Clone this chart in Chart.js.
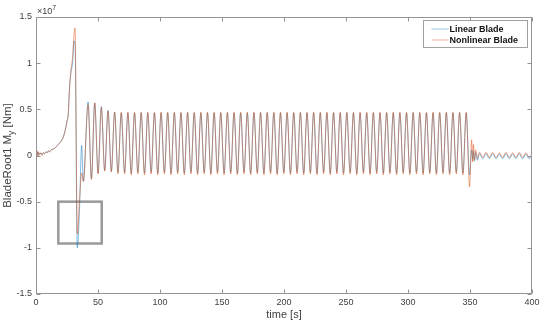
<!DOCTYPE html>
<html>
<head>
<meta charset="utf-8">
<script src="https://cdn.jsdelivr.net/npm/chart.js@4/dist/chart.umd.min.js"></script>
<style>
html,body{margin:0;padding:0;background:#fff;}
</style>
</head>
<body>
<canvas id="c" width="545" height="323"></canvas>
<script>
// Values are in units of 1e7 Nm (axis shows x10^7)
const startTime = [0, 1, 1.5, 2, 3, 4, 5, 6, 7, 8, 9, 10, 11, 12, 14, 16, 18, 20, 22, 24, 25, 26, 27, 28, 29.6, 30.6, 31.5, 33.3, 35, 36.8, 38.2];
const startLinear = [0.02, 0.04, 0.0, 0.03, 0.01, 0.03, 0.01, 0.03, 0.02, 0.04, 0.03, 0.05, 0.04, 0.06, 0.07, 0.09, 0.12, 0.15, 0.2, 0.3, 0.37, 0.45, 0.72, 0.88, 1.02, 1.24, 1.2, -1.0, -0.62, 0.11, -0.28];
const startNonlinear = [0.02, 0.05, -0.01, 0.04, 0.01, 0.03, 0.0, 0.03, 0.02, 0.04, 0.03, 0.05, 0.04, 0.06, 0.07, 0.09, 0.12, 0.15, 0.2, 0.3, 0.37, 0.45, 0.72, 0.9, 1.08, 1.3, 1.38, -0.85, -0.5, -0.19, -0.28];

const oscTime = [
  42.00, 44.70, 47.35, 50.05, 52.70, 55.40, 58.05, 60.75, 63.40, 66.10,
  68.75, 71.45, 74.10, 76.80, 79.45, 82.15, 84.80, 87.50, 90.15, 92.85,
  95.50, 98.20, 100.85, 103.55, 106.20, 108.90, 111.55, 114.25, 116.90, 119.60,
  122.25, 124.95, 127.60, 130.30, 132.95, 135.65, 138.30, 141.00, 143.65, 146.35,
  149.00, 151.70, 154.35, 157.05, 159.70, 162.40, 165.05, 167.75, 170.40, 173.10,
  175.75, 178.45, 181.10, 183.80, 186.45, 189.15, 191.80, 194.50, 197.15, 199.85,
  202.50, 205.20, 207.85, 210.55, 213.20, 215.90, 218.55, 221.25, 223.90, 226.60,
  229.25, 231.95, 234.60, 237.30, 239.95, 242.65, 245.30, 248.00, 250.65, 253.35,
  256.00, 258.70, 261.35, 264.05, 266.70, 269.40, 272.05, 274.75, 277.40, 280.10,
  282.75, 285.45, 288.10, 290.80, 293.45, 296.15, 298.80, 301.50, 304.15, 306.85,
  309.50, 312.20, 314.85, 317.55, 320.20, 322.90, 325.55, 328.25, 330.90, 333.60,
  336.25, 338.95, 341.60, 344.30, 346.95
];
const oscLinear = [
  0.58, -0.25, 0.57, -0.19, 0.53, -0.16, 0.49, -0.17, 0.47, -0.18,
  0.46, -0.18, 0.46, -0.19, 0.46, -0.18, 0.46, -0.19, 0.46, -0.18,
  0.46, -0.19, 0.46, -0.18, 0.46, -0.19, 0.46, -0.18, 0.46, -0.19,
  0.46, -0.18, 0.46, -0.19, 0.46, -0.18, 0.46, -0.19, 0.46, -0.18,
  0.46, -0.19, 0.46, -0.18, 0.46, -0.19, 0.46, -0.18, 0.46, -0.19,
  0.46, -0.18, 0.46, -0.19, 0.46, -0.18, 0.46, -0.19, 0.46, -0.18,
  0.46, -0.19, 0.46, -0.18, 0.46, -0.19, 0.46, -0.18, 0.46, -0.19,
  0.46, -0.18, 0.46, -0.19, 0.46, -0.18, 0.46, -0.19, 0.46, -0.18,
  0.46, -0.19, 0.46, -0.18, 0.46, -0.19, 0.46, -0.18, 0.46, -0.19,
  0.46, -0.18, 0.46, -0.19, 0.46, -0.18, 0.46, -0.19, 0.46, -0.18,
  0.46, -0.19, 0.46, -0.18, 0.46, -0.19, 0.46, -0.18, 0.46, -0.19,
  0.46, -0.18, 0.46, -0.19, 0.46
];
const oscNonlinear = [
  0.55, -0.26, 0.57, -0.20, 0.52, -0.17, 0.48, -0.18, 0.47, -0.20,
  0.47, -0.20, 0.47, -0.21, 0.47, -0.20, 0.47, -0.21, 0.47, -0.20,
  0.47, -0.21, 0.47, -0.20, 0.47, -0.21, 0.47, -0.20, 0.47, -0.21,
  0.47, -0.20, 0.47, -0.21, 0.47, -0.20, 0.47, -0.21, 0.47, -0.20,
  0.47, -0.21, 0.47, -0.20, 0.47, -0.21, 0.47, -0.20, 0.47, -0.21,
  0.47, -0.20, 0.47, -0.21, 0.47, -0.20, 0.47, -0.21, 0.47, -0.20,
  0.47, -0.21, 0.47, -0.20, 0.47, -0.21, 0.47, -0.20, 0.47, -0.21,
  0.47, -0.20, 0.47, -0.21, 0.47, -0.20, 0.47, -0.21, 0.47, -0.20,
  0.47, -0.21, 0.47, -0.20, 0.47, -0.21, 0.47, -0.20, 0.47, -0.21,
  0.47, -0.20, 0.47, -0.21, 0.47, -0.20, 0.47, -0.21, 0.47, -0.20,
  0.47, -0.21, 0.47, -0.20, 0.47, -0.21, 0.47, -0.20, 0.47, -0.21,
  0.47, -0.20, 0.47, -0.21, 0.47
];

const endTime = [349.65, 351.3, 352.2, 352.8, 353.6, 354.6, 356.0, 357.6, 360.3, 362.95, 365.65, 368.3, 371.0, 373.65, 376.35, 379.0, 381.7, 384.35, 387.05, 389.7, 392.4, 395.05, 397.75, 400.0];
const endLinear = [-0.21, 0.06, -0.04, 0.05, -0.06, 0.03, -0.05, 0.02, -0.035, 0.02, -0.035, 0.02, -0.035, 0.015, -0.035, 0.02, -0.035, 0.015, -0.035, 0.02, -0.035, 0.015, -0.035, -0.005];
const endNonlinear = [-0.34, 0.17, -0.07, 0.12, -0.05, 0.06, -0.03, 0.035, -0.02, 0.035, -0.02, 0.035, -0.02, 0.03, -0.02, 0.035, -0.02, 0.03, -0.02, 0.035, -0.02, 0.03, -0.02, 0.01];

const seriesNames = ['Linear Blade', 'Nonlinear Blade'];
const xTicks = [0, 50, 100, 150, 200, 250, 300, 350, 400];
const yTicks = [-1.5, -1, -0.5, 0, 0.5, 1, 1.5];
const zoomBoxTime = [18, 53];
const zoomBoxValue = [-0.953, -0.5];

const FONT = "'Liberation Sans', Arial, Helvetica, sans-serif";
const TXT = '#404040';

function pts(t, v) { return t.map((x, i) => ({ x: x, y: v[i] })); }
const allTime = startTime.concat(oscTime, endTime);
const linearVals = startLinear.concat(oscLinear, endLinear);
const nonlinearVals = startNonlinear.concat(oscNonlinear, endNonlinear);

const framePlugin = {
  id: 'frame',
  beforeDatasetsDraw(chart) {
    const { ctx, scales: { x, y } } = chart;
    ctx.save();
    ctx.strokeStyle = '#9a9a9a';
    ctx.lineWidth = 2.5;
    const bx1 = x.getPixelForValue(zoomBoxTime[0]);
    const bx2 = x.getPixelForValue(zoomBoxTime[1]);
    const by1 = y.getPixelForValue(zoomBoxValue[1]);
    const by2 = y.getPixelForValue(zoomBoxValue[0]);
    ctx.strokeRect(bx1, by1, bx2 - bx1, by2 - by1);
    ctx.restore();
  },
  afterDraw(chart) {
    const { ctx, chartArea: a, scales: { x, y } } = chart;
    ctx.save();
    const L = Math.round(a.left) + 0.5, R = Math.round(a.right) - 0.5;
    const T = Math.round(a.top) + 0.5, B = Math.round(a.bottom) - 0.5;
    ctx.strokeStyle = '#949494';
    ctx.lineWidth = 1;
    ctx.strokeRect(L, T, R - L, B - T);
    const tl = 4;
    ctx.beginPath();
    x.ticks.forEach(t => {
      const px = Math.round(x.getPixelForValue(t.value)) + 0.5;
      ctx.moveTo(px, B); ctx.lineTo(px, B - tl);
      ctx.moveTo(px, T); ctx.lineTo(px, T + tl);
    });
    y.ticks.forEach(t => {
      const py = Math.round(y.getPixelForValue(t.value)) + 0.5;
      ctx.moveTo(L, py); ctx.lineTo(L + tl, py);
      ctx.moveTo(R, py); ctx.lineTo(R - tl, py);
    });
    ctx.stroke();

    // x10^7 exponent label
    ctx.fillStyle = TXT;
    ctx.textBaseline = 'alphabetic';
    ctx.textAlign = 'left';
    ctx.font = '9px ' + FONT;
    ctx.fillText('\u00d710', a.left + 1, a.top - 3);
    const w10 = ctx.measureText('\u00d710').width;
    ctx.font = '7px ' + FONT;
    ctx.fillText('7', a.left + 1 + w10, a.top - 7);

    // y axis title with subscript
    ctx.save();
    ctx.translate(11, (a.top + a.bottom) / 2);
    ctx.rotate(-Math.PI / 2);
    const p1 = 'BladeRoot1 M', p2 = 'y', p3 = ' [Nm]';
    ctx.font = '11.5px ' + FONT;
    const w1 = ctx.measureText(p1).width, w3 = ctx.measureText(p3).width;
    ctx.font = '8.5px ' + FONT;
    const w2 = ctx.measureText(p2).width;
    const s = -(w1 + w2 + w3) / 2;
    ctx.font = '11.5px ' + FONT;
    ctx.fillText(p1, s, 0);
    ctx.font = '8.5px ' + FONT;
    ctx.fillText(p2, s + w1, 3);
    ctx.font = '11.5px ' + FONT;
    ctx.fillText(p3, s + w1 + w2, 0);
    ctx.restore();

    // legend box
    const lw = 104, lh = 27;
    const lx = Math.round(a.right) - 5 - lw + 0.5, ly = Math.round(a.top) + 3 + 0.5;
    ctx.fillStyle = '#ffffff';
    ctx.fillRect(lx, ly, lw, lh);
    ctx.strokeStyle = '#a0a0a0';
    ctx.lineWidth = 1;
    ctx.strokeRect(lx, ly, lw, lh);
    ctx.font = 'bold 9px ' + FONT;
    ctx.textBaseline = 'middle';
    chart.data.datasets.forEach((ds, i) => {
      const yy = ly + 8.5 + i * 11;
      ctx.strokeStyle = ds.borderColor;
      ctx.globalAlpha = 0.6;
      ctx.lineWidth = 1;
      ctx.beginPath();
      ctx.moveTo(lx + 8, yy); ctx.lineTo(lx + 25, yy);
      ctx.stroke();
      ctx.globalAlpha = 1;
      ctx.fillStyle = '#111';
      ctx.fillText(ds.label, lx + 26, yy + 0.5);
    });
    ctx.restore();
  }
};

new Chart(document.getElementById('c'), {
  type: 'line',
  data: {
    datasets: [
      { label: seriesNames[0], data: pts(allTime, linearVals), borderColor: 'rgba(0,114,189,0.7)', borderWidth: 0.7,
        pointRadius: 0, cubicInterpolationMode: 'monotone', order: 1 },
      { label: seriesNames[1], data: pts(allTime, nonlinearVals), borderColor: 'rgba(217,83,25,0.75)', borderWidth: 0.7,
        pointRadius: 0, cubicInterpolationMode: 'monotone', order: 0 }
    ]
  },
  options: {
    responsive: false,
    animation: false,
    devicePixelRatio: 1,
    layout: { padding: { left: 0, right: 13, top: 17, bottom: 0 } },
    plugins: { legend: { display: false }, tooltip: { enabled: false } },
    scales: {
      x: {
        type: 'linear', min: 0, max: 400,
        afterBuildTicks(s) { s.ticks = xTicks.map(v => ({ value: v })); },
        grid: { display: false, drawTicks: false },
        border: { display: false },
        ticks: { font: { size: 9, family: FONT }, color: TXT, padding: 3, maxRotation: 0, autoSkip: false,
                 callback: v => String(v) },
        title: { display: true, text: 'time [s]', font: { size: 11, family: FONT }, color: TXT,
                 padding: { top: 0, bottom: 1 } },
        afterFit(s) { s.height = 29; }
      },
      y: {
        type: 'linear', min: -1.5, max: 1.5,
        afterBuildTicks(s) { s.ticks = yTicks.map(v => ({ value: v })); },
        grid: { display: false, drawTicks: false },
        border: { display: false },
        ticks: { font: { size: 9, family: FONT }, color: TXT, padding: 4, autoSkip: false,
                 callback: v => String(v) },
        afterFit(s) { s.width = 36; }
      }
    }
  },
  plugins: [framePlugin]
});
</script>
</body>
</html>
